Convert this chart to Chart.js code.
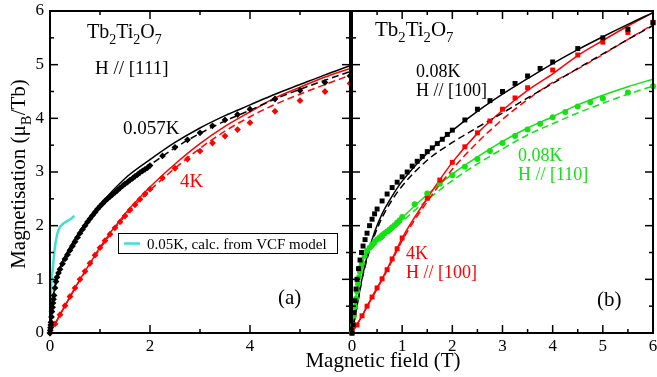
<!DOCTYPE html>
<html lang="en">
<head>
    <meta charset="UTF-8">
    <title>Tb2Ti2O7 magnetisation</title>
    <script src="https://cdn.jsdelivr.net/npm/chart.js"></script>
    <style>
        body { margin: 0; background: #fff; }
        .wrap { position: relative; width: 657px; height: 377px; }
        .wrap canvas { position: absolute; left: 0; top: 0; }
    </style>
</head>
<body>
<div class="wrap">
    <canvas id="panelA" width="657" height="377"></canvas>
    <canvas id="panelB" width="657" height="377"></canvas>
</div>
<script>
// ---- panel (a): H // [111] ----
const blackAField = [0,0.005,0.01,0.015,0.02,0.03,0.04,0.05,0.06,0.07,0.08,0.1,0.12,0.14,0.17,0.2,0.25,0.3,0.35,0.4,0.45,0.5,0.55,0.6,0.65,0.7,0.75,0.8,0.85,0.9,0.95,1.0,1.05,1.1,1.15,1.2,1.25,1.3,1.35,1.4,1.45,1.5,1.55,1.6,1.65,1.7,1.75,1.8,1.85,1.9,1.95,2.0,2.25,2.5,2.75,3.0,3.25,3.5,3.75,4.0,4.5,5.0,5.5,6.0];
const blackAM = [0,0.05,0.1,0.15,0.2,0.3,0.4,0.48,0.56,0.63,0.7,0.84,0.96,1.04,1.12,1.19,1.29,1.38,1.46,1.54,1.62,1.7,1.78,1.86,1.93,2.0,2.07,2.13,2.19,2.25,2.31,2.36,2.41,2.46,2.5,2.54,2.58,2.62,2.66,2.7,2.74,2.78,2.81,2.85,2.88,2.92,2.95,2.99,3.02,3.05,3.08,3.12,3.3,3.46,3.6,3.73,3.86,3.97,4.07,4.17,4.36,4.52,4.67,4.79];
const redAField = [0,0.1,0.2,0.3,0.4,0.5,0.6,0.7,0.8,0.9,1.0,1.1,1.2,1.3,1.4,1.5,1.6,1.7,1.8,1.9,2.0,2.25,2.5,2.75,3.0,3.25,3.5,3.75,4.0,4.5,5.0,5.5,6.0];
const redAM = [0,0.17,0.34,0.51,0.68,0.84,1.0,1.15,1.3,1.45,1.59,1.72,1.84,1.96,2.07,2.18,2.29,2.39,2.49,2.59,2.68,2.89,3.07,3.24,3.39,3.54,3.67,3.79,3.92,4.13,4.33,4.5,4.65];
const fitAField = [0,0.05,0.1,0.2,0.4,0.6,0.8,1.0,1.5,2.0,2.5,3.0,3.5,4.0,4.5,5.0,5.5,6.0];
const blackASolid = [0,0.55,0.88,1.22,1.6,1.9,2.15,2.39,2.88,3.23,3.55,3.82,4.05,4.25,4.45,4.63,4.81,4.98];
const blackADashed = [0,0.5,0.84,1.19,1.55,1.86,2.1,2.35,2.8,3.13,3.45,3.72,3.95,4.15,4.36,4.54,4.71,4.87];
const redASolid = [0,0.09,0.17,0.34,0.68,1.0,1.3,1.6,2.22,2.72,3.15,3.53,3.85,4.12,4.38,4.58,4.77,4.93];
const redADashed = [0,0.09,0.17,0.34,0.67,0.99,1.28,1.57,2.18,2.66,3.07,3.44,3.76,4.03,4.26,4.45,4.63,4.8];
const vcfField = [0,0.01,0.02,0.03,0.05,0.1,0.17,0.27,0.37,0.49];
const vcfM = [0,0.35,0.65,0.95,1.15,1.61,1.92,2.04,2.1,2.18];

// ---- panel (b): H // [100] and [110] ----
const blackBField = [0,0.02,0.04,0.06,0.08,0.1,0.13,0.16,0.19,0.22,0.26,0.3,0.35,0.4,0.45,0.5,0.6,0.7,0.8,0.9,1.0,1.1,1.2,1.3,1.4,1.5,1.6,1.7,1.8,1.9,2.0,2.25,2.5,2.75,3.0,3.25,3.5,3.75,4.0,4.5,5.0,5.5,6.0];
const blackBM = [0,0.15,0.38,0.6,0.82,1.0,1.2,1.36,1.5,1.62,1.74,1.86,2.0,2.12,2.22,2.31,2.46,2.59,2.71,2.81,2.91,3.0,3.11,3.2,3.29,3.38,3.45,3.53,3.61,3.7,3.78,3.97,4.17,4.33,4.5,4.65,4.79,4.93,5.05,5.3,5.5,5.66,5.78];
const redBField = [0,0.1,0.2,0.3,0.4,0.5,0.6,0.7,0.8,0.9,1.0,1.5,1.75,2.0,2.25,2.5,2.75,3.0,3.25,3.5,4.0,4.5,5.0,5.5,6.0];
const redBM = [0,0.15,0.32,0.5,0.67,0.84,1.01,1.18,1.38,1.57,1.77,2.51,2.85,3.18,3.47,3.73,3.95,4.17,4.38,4.57,4.9,5.18,5.42,5.6,5.79];
const greenBField = [0,0.02,0.04,0.06,0.08,0.1,0.12,0.14,0.16,0.18,0.2,0.25,0.3,0.35,0.4,0.45,0.5,0.55,0.6,0.65,0.7,0.75,0.8,0.85,0.9,0.95,1.0,1.25,1.5,1.75,2.0,2.25,2.5,2.75,3.0,3.25,3.5,3.75,4.0,4.25,4.5,4.75,5.0,5.5,6.0];
const greenBM = [0,0.15,0.32,0.49,0.64,0.78,0.92,1.04,1.14,1.23,1.3,1.44,1.53,1.59,1.65,1.7,1.74,1.78,1.82,1.86,1.89,1.93,1.97,2.01,2.06,2.1,2.16,2.4,2.6,2.78,2.94,3.1,3.24,3.39,3.54,3.67,3.79,3.9,4.02,4.12,4.22,4.3,4.37,4.48,4.6];
const fitBField = [0,0.05,0.1,0.2,0.3,0.45,0.6,0.8,1.0,1.5,2.0,2.5,3.0,3.5,4.0,4.5,5.0,5.5,6.0];
const blackBSolid = [0,0.25,0.5,1.02,1.42,1.88,2.22,2.55,2.83,3.35,3.77,4.13,4.45,4.74,5.02,5.28,5.52,5.75,5.97];
const blackBDashed = [0,0.25,0.49,1.0,1.38,1.82,2.15,2.48,2.74,3.22,3.55,3.83,4.1,4.38,4.65,4.93,5.2,5.47,5.73];
const redBSolid = [0,0.08,0.16,0.32,0.5,0.76,1.01,1.38,1.77,2.51,3.18,3.72,4.15,4.52,4.83,5.17,5.45,5.72,5.97];
const redBDashed = [0,0.08,0.16,0.32,0.49,0.74,0.99,1.35,1.72,2.45,3.05,3.55,3.98,4.35,4.67,4.92,5.19,5.47,5.75];
const greenBSolid = [0,0.45,0.8,1.28,1.5,1.68,1.8,1.97,2.15,2.58,2.96,3.28,3.57,3.82,4.03,4.25,4.43,4.59,4.73];
const greenBDashed = [0,0.42,0.76,1.23,1.45,1.63,1.75,1.91,2.08,2.48,2.84,3.15,3.43,3.69,3.9,4.1,4.28,4.45,4.6];

const FONT = '"Liberation Serif", "Times New Roman", serif';
const RED = '#ff0000';
const GREEN = '#14e014';
const CYAN = '#40e0d0';

const pts = (xs, ys) => xs.map((x, i) => ({ x: x, y: ys[i] }));

function marks(xs, ys, style, color, radius) {
    return {
        data: pts(xs, ys), showLine: false, pointStyle: style, pointRadius: radius,
        pointBackgroundColor: color, pointBorderColor: color, pointBorderWidth: 0, clip: false
    };
}

function curve(xs, ys, color, dash, width) {
    return {
        data: pts(xs, ys), showLine: true, pointRadius: 0, borderColor: color,
        borderWidth: width || 1.5, borderDash: dash || [], cubicInterpolationMode: 'monotone',
        fill: false, clip: false
    };
}

// draw text with subscript runs: parts = [[text, isSub], ...]
function richText(ctx, x, y, parts, size, color) {
    let cx = x;
    ctx.fillStyle = color;
    ctx.textAlign = 'left';
    ctx.textBaseline = 'alphabetic';
    parts.forEach(p => {
        const fs = p[1] ? size * 0.7 : size;
        ctx.font = fs + 'px ' + FONT;
        ctx.fillText(p[0], cx, y + (p[1] ? size * 0.3 : 0));
        cx += ctx.measureText(p[0]).width;
    });
    return cx - x;
}

const formula = [['Tb', 0], ['2', 1], ['Ti', 0], ['2', 1], ['O', 0], ['7', 1]];

// box with inward ticks on all four sides
const framePlugin = {
    id: 'frame',
    afterDatasetsDraw(chart, args, opts) {
        const ctx = chart.ctx, a = chart.chartArea, x = chart.scales.x, y = chart.scales.y;
        ctx.save();
        ctx.strokeStyle = '#000';
        ctx.lineWidth = 1.5;
        const seg = (x1, y1, x2, y2) => { ctx.beginPath(); ctx.moveTo(x1, y1); ctx.lineTo(x2, y2); ctx.stroke(); };
        const isMajor = (v, step) => Math.abs(v / step - Math.round(v / step)) < 1e-6;
        for (let i = 0; x.min + i * opts.xMinor <= x.max + 1e-9; i++) {
            const v = x.min + i * opts.xMinor, px = x.getPixelForValue(v);
            const len = isMajor(v, opts.xMajor) ? 8 : 4;
            seg(px, a.bottom, px, a.bottom - len);
            seg(px, a.top, px, a.top + len);
        }
        for (let i = 0; y.min + i * opts.yMinor <= y.max + 1e-9; i++) {
            const v = y.min + i * opts.yMinor, py = y.getPixelForValue(v);
            const len = isMajor(v, opts.yMajor) ? 8 : 4;
            seg(a.left, py, a.left + len, py);
            seg(a.right, py, a.right - len, py);
        }
        ctx.lineWidth = 2;
        ctx.strokeRect(a.left, a.top, a.right - a.left, a.bottom - a.top);
        ctx.restore();
    }
};

// text labels placed in page pixels
const notesPlugin = {
    id: 'notes',
    afterDraw(chart, args, opts) {
        const ctx = chart.ctx;
        ctx.save();
        opts.items.forEach(n => richText(ctx, n.x, n.y, n.parts, n.size, n.color));
        if (opts.extra) opts.extra(ctx);
        ctx.restore();
    }
};

function xAxis(step, labelFn) {
    return {
        type: 'linear', min: 0, max: 6,
        grid: { display: false, drawTicks: false },
        border: { display: false },
        ticks: { stepSize: step, padding: 3, color: '#000', font: { family: FONT, size: 17 }, callback: labelFn },
        afterFit: s => { s.height = 44; s.paddingLeft = 0; s.paddingRight = 0; }
    };
}

const baseOptions = {
    animation: false,
    responsive: false,
    plugins: { legend: { display: false }, tooltip: { enabled: false } }
};

new Chart(document.getElementById('panelA'), {
    type: 'scatter',
    data: {
        datasets: [
            marks(blackAField, blackAM, 'rectRot', '#000', 3.4),
            marks(redAField, redAM, 'rectRot', RED, 3.4),
            curve(fitAField, blackASolid, '#000'),
            curve(fitAField, blackADashed, '#000', [7, 4]),
            curve(fitAField, redASolid, RED),
            curve(fitAField, redADashed, RED, [7, 4]),
            curve(vcfField, vcfM, CYAN, [], 2.5)
        ]
    },
    options: Object.assign({}, baseOptions, {
        layout: { padding: { left: 0, right: 307, top: 11, bottom: 0 } },
        scales: {
            x: xAxis(2, v => (v === 6 ? '' : v)),
            y: {
                type: 'linear', min: 0, max: 6,
                grid: { display: false, drawTicks: false },
                border: { display: false },
                ticks: { stepSize: 1, padding: 6, color: '#000', font: { family: FONT, size: 17 } },
                afterFit: s => { s.width = 50; s.paddingTop = 0; s.paddingBottom = 0; }
            }
        },
        plugins: Object.assign({}, baseOptions.plugins, {
            frame: { xMajor: 2, xMinor: 1, yMajor: 1, yMinor: 0.5 },
            notes: {
                items: [
                    { x: 87, y: 38, size: 20, color: '#000', parts: formula },
                    { x: 95, y: 74, size: 19, color: '#000', parts: [['H // [111]', 0]] },
                    { x: 123, y: 134, size: 19, color: '#000', parts: [['0.057K', 0]] },
                    { x: 180, y: 187, size: 19, color: RED, parts: [['4K', 0]] },
                    { x: 278, y: 304, size: 21, color: '#000', parts: [['(a)', 0]] }
                ],
                extra: ctx => {
                    // legend box
                    ctx.fillStyle = '#fff';
                    ctx.fillRect(118, 233, 220, 21);
                    ctx.strokeStyle = '#000';
                    ctx.lineWidth = 1;
                    ctx.strokeRect(118.5, 233.5, 219, 20);
                    ctx.strokeStyle = CYAN;
                    ctx.lineWidth = 2.5;
                    ctx.beginPath(); ctx.moveTo(124, 243.5); ctx.lineTo(140, 243.5); ctx.stroke();
                    richText(ctx, 147, 249, [['0.05K, calc. from VCF model', 0]], 15, '#000');
                    // y axis title
                    ctx.save();
                    ctx.translate(25, 174);
                    ctx.rotate(-Math.PI / 2);
                    const parts = [['Magnetisation (\u03bc', 0], ['B', 1], ['/Tb)', 0]];
                    const w = richText(ctx, -1000, -1000, parts, 21, 'rgba(0,0,0,0)');
                    richText(ctx, -w / 2, 0, parts, 21, '#000');
                    ctx.restore();
                }
            }
        })
    }),
    plugins: [framePlugin, notesPlugin]
});

new Chart(document.getElementById('panelB'), {
    type: 'scatter',
    data: {
        datasets: [
            marks(blackBField, blackBM, 'rect', '#000', 3.5),
            marks(redBField, redBM, 'rect', RED, 3.5),
            marks(greenBField, greenBM, 'circle', GREEN, 3),
            curve(fitBField, blackBSolid, '#000'),
            curve(fitBField, blackBDashed, '#000', [7, 4]),
            curve(fitBField, redBSolid, RED),
            curve(fitBField, redBDashed, RED, [7, 4]),
            curve(fitBField, greenBSolid, GREEN),
            curve(fitBField, greenBDashed, GREEN, [7, 4])
        ]
    },
    options: Object.assign({}, baseOptions, {
        layout: { padding: { left: 352, right: 3, top: 11, bottom: 0 } },
        scales: {
            x: xAxis(1),
            y: { type: 'linear', min: 0, max: 6, display: false }
        },
        plugins: Object.assign({}, baseOptions.plugins, {
            frame: { xMajor: 1, xMinor: 0.5, yMajor: 1, yMinor: 0.5 },
            notes: {
                items: [
                    { x: 375, y: 36, size: 21, color: '#000', parts: formula },
                    { x: 416, y: 77, size: 18, color: '#000', parts: [['0.08K', 0]] },
                    { x: 416, y: 96, size: 18, color: '#000', parts: [['H // [100]', 0]] },
                    { x: 518, y: 161, size: 18, color: GREEN, parts: [['0.08K', 0]] },
                    { x: 518, y: 180, size: 18, color: GREEN, parts: [['H // [110]', 0]] },
                    { x: 406, y: 259, size: 18, color: RED, parts: [['4K', 0]] },
                    { x: 406, y: 278, size: 18, color: RED, parts: [['H // [100]', 0]] },
                    { x: 597, y: 306, size: 21, color: '#000', parts: [['(b)', 0]] }
                ],
                extra: ctx => {
                    ctx.font = '21px ' + FONT;
                    ctx.fillStyle = '#000';
                    ctx.textAlign = 'center';
                    ctx.textBaseline = 'alphabetic';
                    ctx.fillText('Magnetic field (T)', 383, 367);
                }
            }
        })
    }),
    plugins: [framePlugin, notesPlugin]
});
</script>
</body>
</html>
